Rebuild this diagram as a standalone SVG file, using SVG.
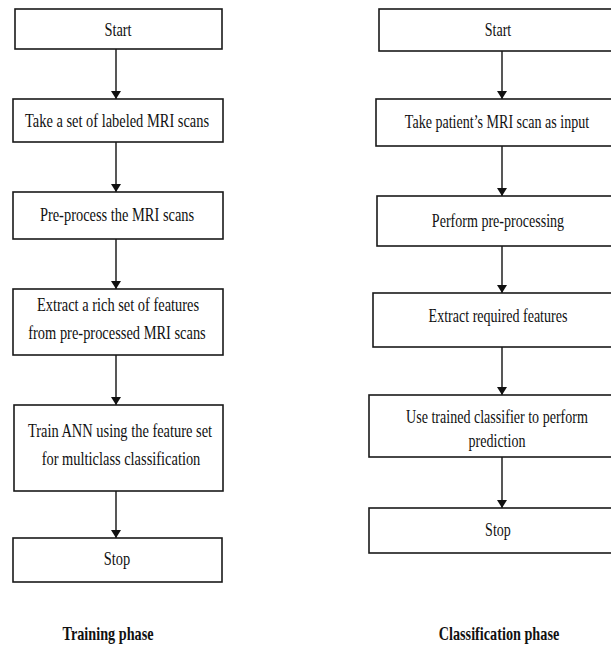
<svg xmlns="http://www.w3.org/2000/svg" width="611" height="648" viewBox="0 0 611 648">
<style>
.box{fill:#fff;stroke:#1a1a1a;stroke-width:1.6}
.t{font-family:"Liberation Serif","Times New Roman",serif;font-size:19px;fill:#111;text-anchor:middle}
.b{font-family:"Liberation Serif","Times New Roman",serif;font-size:18px;font-weight:bold;fill:#111;text-anchor:middle}
.c{stroke:#111;stroke-width:1.4;fill:none;marker-end:url(#ah)}
</style>
<defs>
<marker id="ah" viewBox="0 0 8 10" refX="8" refY="5" markerWidth="8" markerHeight="10" markerUnits="userSpaceOnUse" orient="auto-start-reverse">
<path d="M0,0 L8,5 L0,10 z" fill="#111"/>
</marker>
</defs>
<rect width="611" height="648" fill="#fff"/>
<g id="connectors">
<line class="c" x1="116" y1="49" x2="116" y2="99"/>
<line class="c" x1="116" y1="142" x2="116" y2="192"/>
<line class="c" x1="116" y1="239" x2="116" y2="289"/>
<line class="c" x1="116" y1="355" x2="116" y2="405"/>
<line class="c" x1="116" y1="491" x2="116" y2="538"/>
<line class="c" x1="502" y1="51" x2="502" y2="99"/>
<line class="c" x1="502" y1="146" x2="502" y2="196"/>
<line class="c" x1="502" y1="246" x2="502" y2="293"/>
<line class="c" x1="502" y1="347" x2="502" y2="395"/>
<line class="c" x1="502" y1="457" x2="502" y2="508"/>
</g>
<g id="train-start">
<rect class="box" x="15" y="9" width="207" height="40"/>
<text class="t" transform="translate(118,36) scale(0.76,1)">Start</text>
</g>
<g id="train-take">
<rect class="box" x="13" y="99" width="210" height="43"/>
<text class="t" transform="translate(117,127) scale(0.76,1)">Take a set of labeled MRI scans</text>
</g>
<g id="train-preprocess">
<rect class="box" x="13" y="192" width="210" height="47"/>
<text class="t" transform="translate(117,221) scale(0.76,1)">Pre-process the MRI scans</text>
</g>
<g id="train-extract">
<rect class="box" x="13" y="289" width="210" height="66"/>
<text class="t" transform="translate(118,311) scale(0.76,1)">Extract a rich set of features</text>
<text class="t" transform="translate(117,339) scale(0.76,1)">from pre-processed MRI scans</text>
</g>
<g id="train-ann">
<rect class="box" x="14" y="405" width="209" height="86"/>
<text class="t" transform="translate(120,437) scale(0.76,1)">Train ANN using the feature set</text>
<text class="t" transform="translate(121,465) scale(0.76,1)">for multiclass classification</text>
</g>
<g id="train-stop">
<rect class="box" x="13" y="538" width="209" height="44"/>
<text class="t" transform="translate(117,565) scale(0.76,1)">Stop</text>
</g>
<g id="class-start">
<rect class="box" x="379" y="9" width="240" height="42"/>
<text class="t" transform="translate(498,36) scale(0.74,1)">Start</text>
</g>
<g id="class-take">
<rect class="box" x="376" y="99" width="243" height="47"/>
<text class="t" transform="translate(497,128) scale(0.74,1)">Take patient’s MRI scan as input</text>
</g>
<g id="class-preprocess">
<rect class="box" x="377" y="196" width="242" height="50"/>
<text class="t" transform="translate(498,227) scale(0.74,1)">Perform pre-processing</text>
</g>
<g id="class-extract">
<rect class="box" x="373" y="293" width="246" height="54"/>
<text class="t" transform="translate(498,322) scale(0.74,1)">Extract required features</text>
</g>
<g id="class-predict">
<rect class="box" x="369" y="395" width="250" height="62"/>
<text class="t" transform="translate(497,423) scale(0.74,1)">Use trained classifier to perform</text>
<text class="t" transform="translate(497,447) scale(0.74,1)">prediction</text>
</g>
<g id="class-stop">
<rect class="box" x="369" y="508" width="250" height="45"/>
<text class="t" transform="translate(498,536) scale(0.74,1)">Stop</text>
</g>
<g id="labels">
<text class="b" transform="translate(108,640) scale(0.79,1)">Training phase</text>
<text class="b" transform="translate(499,640) scale(0.79,1)">Classification phase</text>
</g>
</svg>
